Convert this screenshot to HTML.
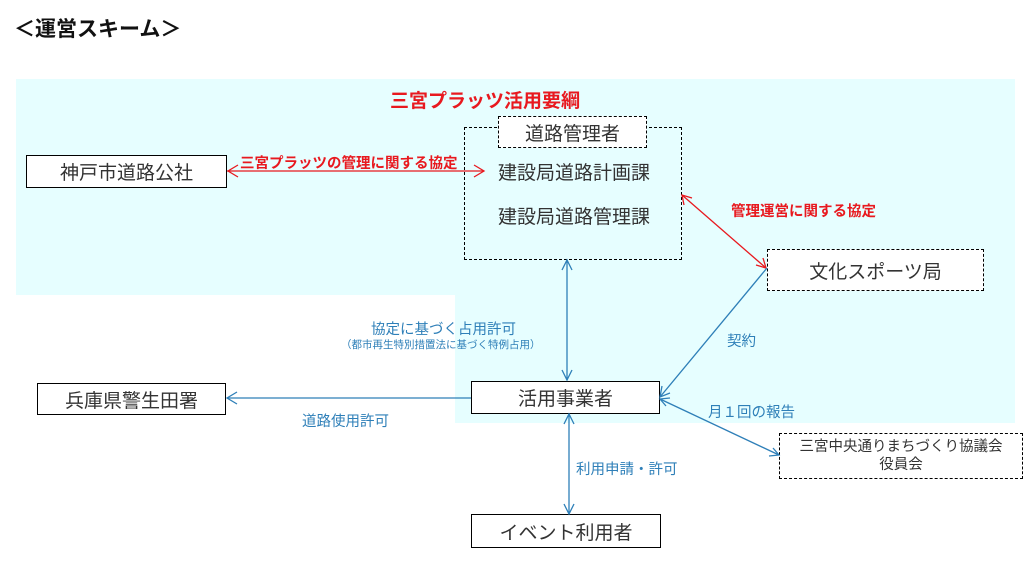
<!DOCTYPE html>
<html><head><meta charset="utf-8"><style>
body{margin:0;width:1035px;height:576px;background:#fff;position:relative;overflow:hidden;font-family:"Liberation Sans","Noto Sans CJK JP",sans-serif}
.a{position:absolute;white-space:nowrap}
.b{position:absolute;box-sizing:border-box;border:1px solid #000;background:#fff;display:flex;align-items:center;justify-content:center;font-size:19px;color:#333}
.d{border:1px dashed #000}
.bl{color:#2e7fb8;font-size:14.5px}
</style></head><body>
<div class="a" style="left:16px;top:79px;width:999px;height:216px;background:#e6feff"></div>
<div class="a" style="left:455px;top:295px;width:560px;height:128px;background:#e6feff"></div>
<div class="a" style="left:14px;top:13px;font-size:21px;font-weight:bold;color:#111">＜運営スキーム＞</div>
<div class="a" style="left:390px;top:86px;font-size:19px;font-weight:bold;color:#e8191f">三宮プラッツ活用要綱</div>
<div class="b" style="left:26px;top:155px;width:201px;height:33px">神戸市道路公社</div>
<div class="b d" style="left:464px;top:127px;width:218px;height:133px;display:block;background:transparent"></div>
<div class="b d" style="left:498px;top:116px;width:149px;height:32px">道路管理者</div>
<div class="a" style="left:498px;top:158px;font-size:19px;color:#333">建設局道路計画課</div>
<div class="a" style="left:498px;top:202px;font-size:19px;color:#333">建設局道路管理課</div>
<div class="b d" style="left:767px;top:249px;width:217px;height:42px">文化スポーツ局</div>
<div class="b" style="left:37px;top:383px;width:189px;height:32px">兵庫県警生田署</div>
<div class="b" style="left:471px;top:381px;width:189px;height:33px">活用事業者</div>
<div class="b" style="left:471px;top:514px;width:190px;height:34px">イベント利用者</div>
<div class="b d" style="left:779px;top:433px;width:244px;height:46px;font-size:14.5px;flex-direction:column;line-height:18px"><span>三宮中央通りまちづくり協議会</span><span>役員会</span></div>
<svg class="a" style="left:0;top:0" width="1035" height="576">
<g fill="none" stroke="#e8191f" stroke-width="1.3">
<line x1="227" y1="171" x2="484" y2="171"/><polyline points="238,165 228,171 238,177"/><polyline points="474,165 484,171 474,177"/>
<line x1="682" y1="195" x2="766" y2="268"/><polyline points="684,205 682,195 692,198"/><polyline points="756,265 766,268 763,258"/>
</g>
<g fill="none" stroke="#2e7fb8" stroke-width="1.3">
<line x1="567" y1="260" x2="567" y2="380"/><polyline points="562,270 567,260 572,270"/><polyline points="562,370 567,380 572,370"/>
<line x1="471" y1="398" x2="227" y2="398"/><polyline points="237,392 227,398 237,404"/>
<line x1="767" y1="268" x2="660" y2="397"/><polyline points="662,386 660,397 670,393"/>
<line x1="660" y1="399" x2="779" y2="455"/><polyline points="666,406 660,399 670,398"/><polyline points="769,456 779,455 773,448"/>
<line x1="569" y1="414" x2="569" y2="514"/><polyline points="564,424 569,414 574,424"/><polyline points="564,504 569,514 574,504"/>
</g></svg>
<div class="a" style="left:240px;top:152px;font-size:14.5px;font-weight:bold;color:#e8191f">三宮プラッツの管理に関する協定</div>
<div class="a" style="left:731px;top:200px;font-size:14.5px;font-weight:bold;color:#e8191f">管理運営に関する協定</div>
<div class="a bl" style="left:371px;top:318px">協定に基づく占用許可</div>
<div class="a bl" style="left:341px;top:337px;font-size:10.5px">（都市再生特別措置法に基づく特例占用）</div>
<div class="a bl" style="left:727px;top:330px">契約</div>
<div class="a bl" style="left:302px;top:410px">道路使用許可</div>
<div class="a bl" style="left:708px;top:401px">月１回の報告</div>
<div class="a bl" style="left:576px;top:458px">利用申請・許可</div>
</body></html>
